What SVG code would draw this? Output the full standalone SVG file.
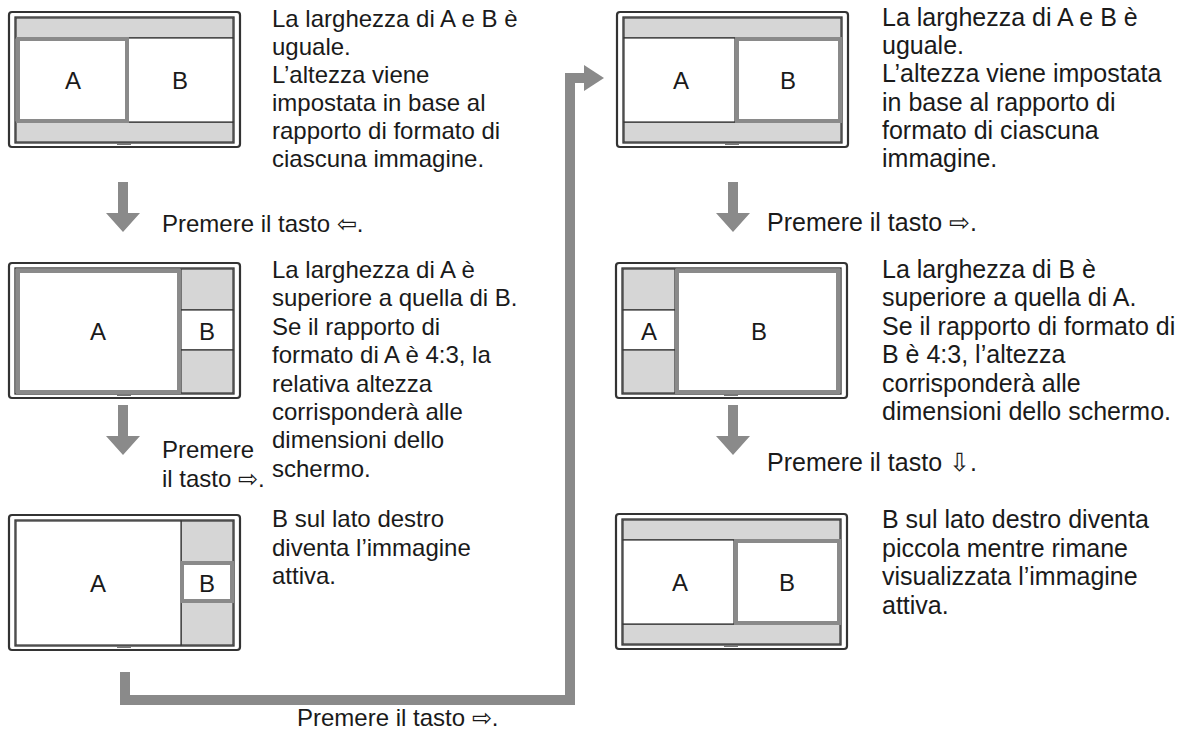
<svg xmlns="http://www.w3.org/2000/svg" width="1182" height="731" viewBox="0 0 1182 731">
<style>
text{font-family:"Liberation Sans",Arial,sans-serif;fill:#1a1a1a}
.t{font-size:25px}
.tl{font-size:24px}
.lbl{font-size:24px;text-anchor:middle}
.outer{fill:#fff;stroke:#333;stroke-width:2.2}
.inner{fill:none;stroke:#333;stroke-width:1.3}
.gray{fill:#d6d6d6;stroke:#333;stroke-width:1.2}
.thin{fill:#fff;stroke:#333;stroke-width:1.2}
.act{fill:#fff;stroke:#8a8a8a;stroke-width:4}
.ar{fill:#8a8a8a}
</style>
<defs>
<g id="frame">
<rect class="outer" x="0" y="0" width="231" height="135" rx="3"/>
<rect class="inner" x="6" y="5" width="219" height="126"/>
<rect x="108" y="131" width="14" height="2" fill="#777"/>
</g>
</defs>
<g id="screen1" transform="translate(9,12)">
<use href="#frame"/>
<rect class="gray" x="7" y="6" width="217" height="20"/>
<rect class="gray" x="7" y="110" width="217" height="20"/>
<rect class="thin" x="118" y="26" width="106" height="84"/>
<rect class="act" x="9" y="27" width="109" height="82"/>
<text class="lbl" x="64" y="77">A</text><text class="lbl" x="171" y="77">B</text>
</g>
<g id="screen2" transform="translate(9,263)">
<use href="#frame"/>
<rect class="gray" x="172" y="6" width="52" height="41"/>
<rect class="thin" x="172" y="47" width="52" height="40"/>
<rect class="gray" x="172" y="87" width="52" height="43"/>
<rect class="act" x="9" y="8" width="161" height="121"/>
<text class="lbl" x="89" y="77">A</text><text class="lbl" x="198" y="77">B</text>
</g>
<g id="screen3" transform="translate(9,515)">
<use href="#frame"/>
<rect class="gray" x="172" y="6" width="52" height="41"/>
<rect class="gray" x="172" y="87" width="52" height="43"/>
<rect class="thin" x="7" y="6" width="165" height="124"/>
<rect class="act" x="173" y="48" width="50" height="38"/>
<text class="lbl" x="89" y="77">A</text><text class="lbl" x="198" y="77">B</text>
</g>
<g id="screen4" transform="translate(617,12)">
<use href="#frame"/>
<rect class="gray" x="7" y="6" width="217" height="20"/>
<rect class="gray" x="7" y="110" width="217" height="20"/>
<rect class="thin" x="7" y="26" width="111" height="84"/>
<rect class="act" x="120" y="27" width="103" height="82"/>
<text class="lbl" x="64" y="77">A</text><text class="lbl" x="171" y="77">B</text>
</g>
<g id="screen5" transform="translate(616,263)">
<use href="#frame"/>
<rect class="gray" x="7" y="6" width="52" height="41"/>
<rect class="thin" x="7" y="47" width="52" height="40"/>
<rect class="gray" x="7" y="87" width="52" height="43"/>
<rect class="act" x="61" y="8" width="161" height="121"/>
<text class="lbl" x="33" y="77">A</text><text class="lbl" x="143" y="77">B</text>
</g>
<g id="screen6" transform="translate(616,514)">
<use href="#frame"/>
<rect class="gray" x="7" y="6" width="217" height="20"/>
<rect class="gray" x="7" y="110" width="217" height="20"/>
<rect class="thin" x="7" y="26" width="111" height="84"/>
<rect class="act" x="120" y="27" width="103" height="82"/>
<text class="lbl" x="64" y="77">A</text><text class="lbl" x="171" y="77">B</text>
</g>
<g id="connectors">
<path class="ar" d="M118 182h10v31h12l-17 19l-17-19h12z"/>
<path class="ar" d="M118 405h10v31h12l-17 19l-17-19h12z"/>
<path class="ar" d="M728 182h10v31h12l-17 19l-17-19h12z"/>
<path class="ar" d="M728 405h10v31h12l-17 19l-17-19h12z"/>
<path d="M125 672V700H570V78H586" fill="none" stroke="#8a8a8a" stroke-width="10"/>
<path class="ar" d="M584 65L604 78L584 91z"/>
</g>
<g id="texts">
<text class="tl" x="272" y="27"><tspan x="272">La larghezza di A e B è</tspan><tspan x="272" dy="28">uguale.</tspan><tspan x="272" dy="28">L’altezza viene</tspan><tspan x="272" dy="28">impostata in base al</tspan><tspan x="272" dy="28">rapporto di formato di</tspan><tspan x="272" dy="28">ciascuna immagine.</tspan></text>
<text class="tl" x="162" y="232">Premere il tasto ⇦.</text>
<text class="tl" x="272" y="278"><tspan x="272">La larghezza di A è</tspan><tspan x="272" dy="28.4">superiore a quella di B.</tspan><tspan x="272" dy="28.4">Se il rapporto di</tspan><tspan x="272" dy="28.4">formato di A è 4:3, la</tspan><tspan x="272" dy="28.4">relativa altezza</tspan><tspan x="272" dy="28.4">corrisponderà alle</tspan><tspan x="272" dy="28.4">dimensioni dello</tspan><tspan x="272" dy="28.4">schermo.</tspan></text>
<text class="tl" x="162" y="458"><tspan x="162">Premere</tspan><tspan x="162" dy="29">il tasto ⇨.</tspan></text>
<text class="tl" x="272" y="527"><tspan x="272">B sul lato destro</tspan><tspan x="272" dy="28.5">diventa l’immagine</tspan><tspan x="272" dy="28.5">attiva.</tspan></text>
<text class="tl" x="297" y="726">Premere il tasto ⇨.</text>
<text class="t" x="882" y="26"><tspan x="882">La larghezza di A e B è</tspan><tspan x="882" dy="28.2">uguale.</tspan><tspan x="882" dy="28.2">L’altezza viene impostata</tspan><tspan x="882" dy="28.2">in base al rapporto di</tspan><tspan x="882" dy="28.2">formato di ciascuna</tspan><tspan x="882" dy="28.2">immagine.</tspan></text>
<text class="t" x="767" y="231">Premere il tasto ⇨.</text>
<text class="t" x="882" y="278"><tspan x="882">La larghezza di B è</tspan><tspan x="882" dy="28.4">superiore a quella di A.</tspan><tspan x="882" dy="28.4">Se il rapporto di formato di</tspan><tspan x="882" dy="28.4">B è 4:3, l’altezza</tspan><tspan x="882" dy="28.4">corrisponderà alle</tspan><tspan x="882" dy="28.4">dimensioni dello schermo.</tspan></text>
<text class="t" x="767" y="471">Premere il tasto ⇩.</text>
<text class="t" x="882" y="528"><tspan x="882">B sul lato destro diventa</tspan><tspan x="882" dy="28.5">piccola mentre rimane</tspan><tspan x="882" dy="28.5">visualizzata l’immagine</tspan><tspan x="882" dy="28.5">attiva.</tspan></text>
</g>
</svg>
